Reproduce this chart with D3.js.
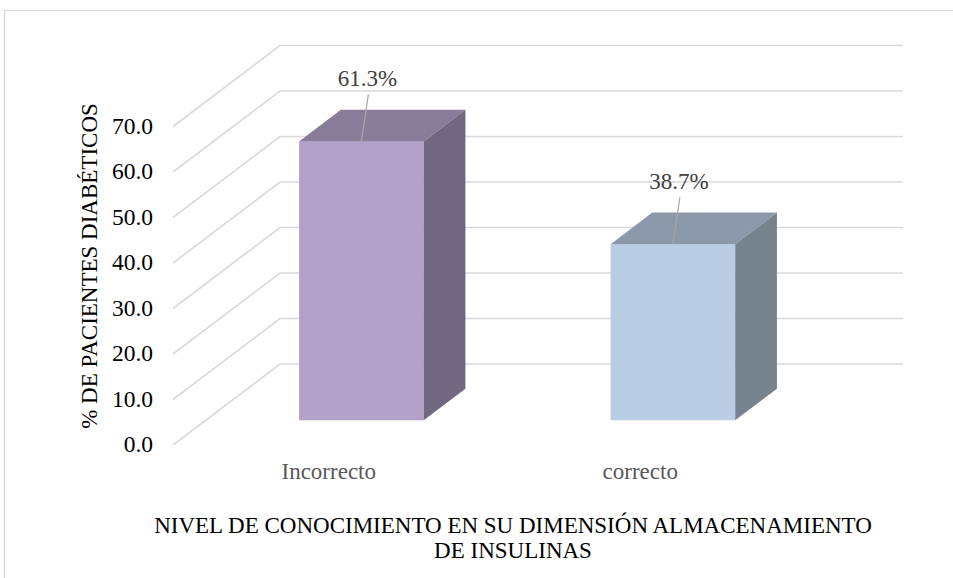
<!DOCTYPE html>
<html lang="es">

<head>
    <meta charset="UTF-8">
    <title>Almacenamiento de insulinas</title>
    <style>
        body {
            margin: 0px;
            padding: 0px;
            background-color: white;
        }
    </style>
</head>

<body>
    <div id="svg"></div>

    <script src="https://cdn.jsdelivr.net/npm/d3@7"></script>
    <script>

        // data
        const categories = ["Incorrecto", "correcto"];
        const values = [61.3, 38.7];
        const valueLabels = ["61.3%", "38.7%"];
        const ticks = [0, 10, 20, 30, 40, 50, 60, 70];

        const frontColors = ["#b3a2c7", "#b9cde5"];
        const topColors = ["#887c9a", "#8c99ab"];
        const sideColors = ["#716780", "#76838f"];

        const w = 953;
        const h = 578;
        const font = "'Liberation Serif', 'Times New Roman', serif";

        // depth of the 3d box (front floor edge -> back wall)
        const depthX = 107;
        const depthY = -81;
        const barFront = 0.305;
        const barBack = 0.695;

        const svg = d3.select("#svg")
            .append("svg")
            .attr("width", w)
            .attr("height", h)
            .style("font-family", font);

        // outer chart border
        svg.append("rect")
            .attr("x", 4.5)
            .attr("y", 10.5)
            .attr("width", 980)
            .attr("height", 620)
            .attr("fill", "none")
            .attr("stroke", "#d9d9d9")
            .attr("stroke-width", 1.3);

        const x = d3.scaleBand()
            .domain(categories)
            .range([173, 796]);

        const y = d3.scaleLinear()
            .domain([0, 70])
            .range([445, 126.5]);

        // gridlines: side wall diagonal + back wall
        svg.append("g")
            .selectAll("polyline")
            .data(ticks)
            .enter()
            .append("polyline")
            .attr("points", (d) => [
                [x.range()[0], y(d)],
                [x.range()[0] + depthX, y(d) + depthY],
                [x.range()[1] + depthX, y(d) + depthY]
            ].join(" "))
            .attr("fill", "none")
            .attr("stroke", "#d9d9d9")
            .attr("stroke-width", 1.6);

        // tick labels
        svg.append("g")
            .selectAll("text")
            .data(ticks)
            .enter()
            .append("text")
            .attr("x", 153)
            .attr("y", (d) => y(d) - 1)
            .attr("dy", "0.35em")
            .attr("text-anchor", "end")
            .style("font-size", "23.5px")
            .attr("fill", "#000")
            .text((d) => d.toFixed(1));

        // bars
        const bw = x.bandwidth() * 0.4;
        const dx = depthX * (barBack - barFront);
        const dy = depthY * (barBack - barFront);

        const bars = svg.append("g")
            .selectAll("g")
            .data(values)
            .enter()
            .append("g");

        const x0 = (d, i) => x(categories[i]) + x.bandwidth() * 0.3 + depthX * barFront;
        const yTop = (d) => y(d) + depthY * barFront;
        const yBot = y(0) + depthY * barFront;

        bars.append("rect")
            .attr("x", x0)
            .attr("y", yTop)
            .attr("width", bw)
            .attr("height", (d) => yBot - yTop(d))
            .attr("fill", (d, i) => frontColors[i]);

        bars.append("polygon")
            .attr("points", (d, i) => [
                [x0(d, i), yTop(d)],
                [x0(d, i) + bw, yTop(d)],
                [x0(d, i) + bw + dx, yTop(d) + dy],
                [x0(d, i) + dx, yTop(d) + dy]
            ].join(" "))
            .attr("fill", (d, i) => topColors[i]);

        bars.append("polygon")
            .attr("points", (d, i) => [
                [x0(d, i) + bw, yTop(d)],
                [x0(d, i) + bw + dx, yTop(d) + dy],
                [x0(d, i) + bw + dx, yBot + dy],
                [x0(d, i) + bw, yBot]
            ].join(" "))
            .attr("fill", (d, i) => sideColors[i]);

        // data labels with leader lines
        bars.append("line")
            .attr("x1", (d, i) => x0(d, i) + bw / 2)
            .attr("y1", yTop)
            .attr("x2", (d, i) => x0(d, i) + bw / 2 + 7)
            .attr("y2", (d) => yTop(d) - 47)
            .attr("stroke", "#a6a6a6")
            .attr("stroke-width", 1.2);

        bars.append("text")
            .attr("x", (d, i) => x0(d, i) + bw / 2 + 6)
            .attr("y", (d) => yTop(d) - 63)
            .attr("dy", "0.35em")
            .attr("text-anchor", "middle")
            .style("font-size", "23px")
            .attr("fill", "#404040")
            .text((d, i) => valueLabels[i]);

        // category labels
        svg.append("g")
            .selectAll("text")
            .data(categories)
            .enter()
            .append("text")
            .attr("x", (d) => x(d) + x.bandwidth() / 2)
            .attr("y", 479)
            .attr("text-anchor", "middle")
            .style("font-size", "23px")
            .attr("fill", "#595959")
            .text((d) => d);

        // axis titles
        svg.append("text")
            .attr("transform", "translate(97, 266) rotate(-90)")
            .attr("text-anchor", "middle")
            .style("font-size", "23px")
            .attr("fill", "#000")
            .text("% DE PACIENTES DIABÉTICOS");

        const title = svg.append("text")
            .attr("text-anchor", "middle")
            .style("font-size", "23px")
            .attr("fill", "#000");

        title.append("tspan")
            .attr("x", 513)
            .attr("y", 533)
            .text("NIVEL DE CONOCIMIENTO EN SU DIMENSIÓN ALMACENAMIENTO");

        title.append("tspan")
            .attr("x", 513)
            .attr("y", 558)
            .text("DE INSULINAS");

    </script>
</body>

</html>
